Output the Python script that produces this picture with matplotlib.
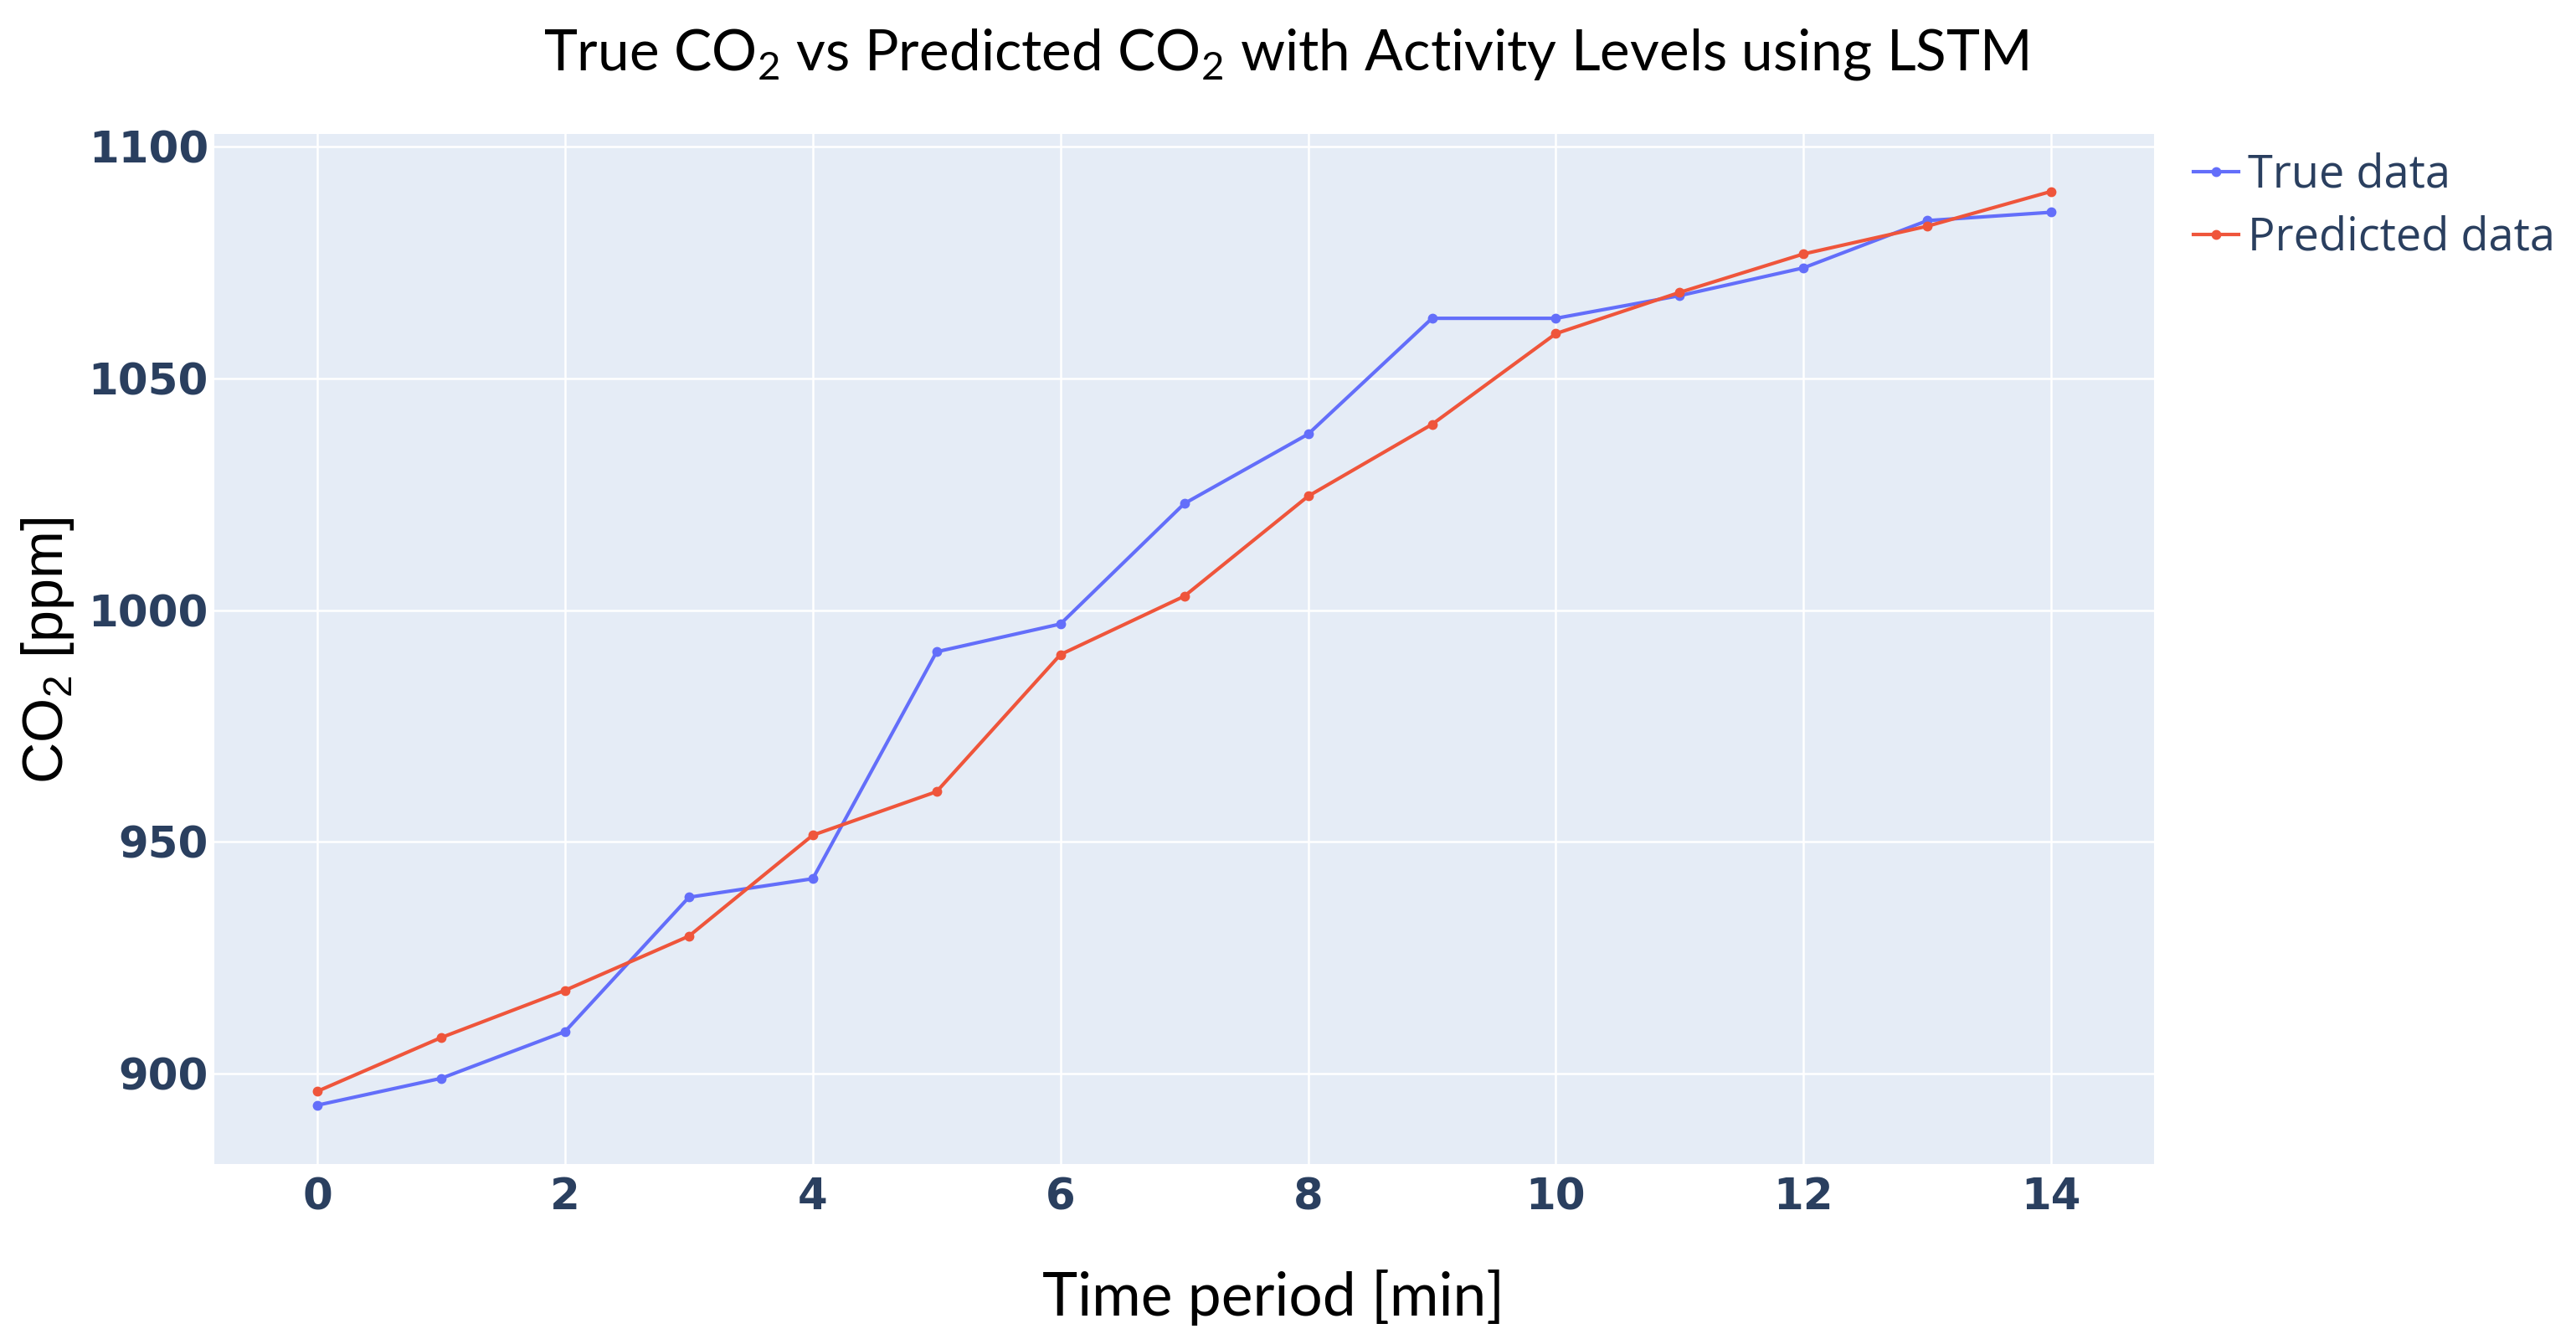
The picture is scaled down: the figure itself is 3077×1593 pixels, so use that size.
import matplotlib
matplotlib.use("Agg")
import matplotlib.pyplot as plt

# ---- data ----
time_min = list(range(15))
true_co2 = [893.1, 898.9, 909.0, 938.0, 942.0, 991.0, 997.0, 1023.0, 1038.0,
            1063.0, 1063.0, 1067.9, 1073.9, 1084.1, 1085.9]
pred_co2 = [896.1, 907.7, 917.9, 929.6, 951.4, 960.8, 990.4, 1003.0, 1024.6,
            1040.1, 1059.7, 1068.6, 1076.9, 1082.9, 1090.4]
x_ticks = [0, 2, 4, 6, 8, 10, 12, 14]
y_ticks = [900, 950, 1000, 1050, 1100]
series_names = ["True data", "Predicted data"]
title_text = "True CO$_\\mathregular{2}$ vs Predicted CO$_\\mathregular{2}$ with Activity Levels using LSTM"
xlabel_text = "Time period [min]"
ylabel_text = "CO$_\\mathregular{2}$ [ppm]"

W, H = 3077, 1593
DPI = 100
fig = plt.figure(figsize=(W / DPI, H / DPI), dpi=DPI)
fig.patch.set_facecolor("white")

L, R, T, B = 256, 2573, 160, 1390
ax = fig.add_axes([L / W, 1 - B / H, (R - L) / W, (B - T) / H])
ax.set_facecolor("#E5ECF6")
for s in ax.spines.values():
    s.set_visible(False)

ax.plot(time_min, true_co2, color="#636EFA", lw=3.0, marker="o", ms=7.5,
        label=series_names[0], zorder=3)
ax.plot(time_min, pred_co2, color="#EF553B", lw=3.0, marker="o", ms=7.5,
        label=series_names[1], zorder=3)

ax.set_xlim(-0.832, 14.83)
ax.set_ylim(880.4, 1102.8)
ax.set_xticks(x_ticks)
ax.set_yticks(y_ticks)
ax.grid(True, color="white", lw=1.8)
ax.set_axisbelow(True)
ax.tick_params(length=0, labelcolor="#2A3F5F")
ax.tick_params(axis="y", pad=5)
ax.tick_params(axis="x", pad=11)
for lab in ax.get_xticklabels() + ax.get_yticklabels():
    lab.set_fontfamily("DejaVu Sans")
    lab.set_fontweight("bold")
    lab.set_fontsize(37)

leg = ax.legend(loc="upper left", bbox_to_anchor=(2620 / W, 1 - 182 / H),
                bbox_transform=fig.transFigure, frameon=False,
                prop={"family": ["Open Sans", "DejaVu Sans"], "size": 39},
                handlelength=1.0, handletextpad=0.2, labelspacing=0.36,
                borderpad=0, borderaxespad=0)
for t in leg.get_texts():
    t.set_color("#2A3F5F")

title = fig.text(1536 / W, 1 - 84 / H, title_text, ha="center", va="baseline",
                 fontsize=50, family=["Lato", "DejaVu Sans"], color="black")
xl = fig.text(1521 / W, 1 - 1571 / H, xlabel_text, ha="center", va="baseline",
              fontsize=50, family=["Lato", "DejaVu Sans"], color="black")
yl = fig.text(57 / W, 1 - 777 / H, ylabel_text, ha="center", va="center",
              rotation=90, fontsize=49, family=["Liberation Sans", "DejaVu Sans"],
              color="black")

# fit text widths to the reference
fig.canvas.draw()
r = fig.canvas.get_renderer()
for txt, target, horiz in [(title, 1776, True), (xl, 552, True), (yl, 318, False)]:
    bb = txt.get_window_extent(r)
    cur = bb.width if horiz else bb.height
    txt.set_fontsize(txt.get_fontsize() * target / cur)

fig.savefig("out.png", dpi=DPI, facecolor="white")
